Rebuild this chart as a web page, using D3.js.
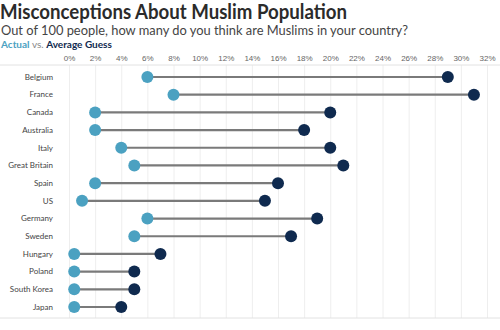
<!DOCTYPE html>
<html>
<head>
<meta charset="utf-8">
<script src="https://cdn.jsdelivr.net/npm/d3@7"></script>
<style>
  body { margin: 0; background: #fff; }
  svg { display: block; font-family: Lato, "Open Sans", sans-serif; }
</style>
</head>
<body>
<div id="chart"></div>
<script>
var countries = ['Belgium', 'France', 'Canada', 'Australia', 'Italy', 'Great Britain', 'Spain',
                 'US', 'Germany', 'Sweden', 'Hungary', 'Poland', 'South Korea', 'Japan'];
var actual = [6, 8, 2, 2, 4, 5, 2, 1, 6, 5, 0.4, 0.4, 0.4, 0.4];
var guess = [29, 31, 20, 18, 20, 21, 16, 15, 19, 17, 7, 5, 5, 4];
var ticks = d3.range(0, 33, 2);

var actualColor = '#4ba1c1',
    guessColor = '#0f2a4f';

var width = 500,
    height = 330;
var margin = {top: 65, left: 69, right: 13, bottom: 12};

var svg = d3.select('#chart').append('svg').attr('width', width).attr('height', height);

var x = d3.scaleLinear().domain([0, 32]).range([margin.left, width - margin.right]);
var y = d3.scalePoint().domain(countries).range([77, 307]);

// title block
svg.append('text').attr('x', 0).attr('y', 19)
    .attr('textLength', 347).attr('lengthAdjust', 'spacingAndGlyphs')
    .style('font-size', '20px').style('font-weight', 'bold').style('fill', '#2b2b2b')
    .text('Misconceptions About Muslim Population');
svg.append('text').attr('x', 1).attr('y', 35)
    .attr('textLength', 407).attr('lengthAdjust', 'spacingAndGlyphs')
    .style('font-size', '13px').style('fill', '#444')
    .text('Out of 100 people, how many do you think are Muslims in your country?');
var legend = svg.append('text').attr('x', 1).attr('y', 48).style('font-size', '10px');
legend.append('tspan').style('fill', actualColor).style('font-weight', 'bold').text('Actual');
legend.append('tspan').style('fill', '#888').text(' vs. ');
legend.append('tspan').style('fill', guessColor).style('font-weight', 'bold').text('Average Guess');

// grid + top axis
var axis = d3.axisTop(x).tickValues(ticks).tickFormat(function(d) { return d + '%'; })
    .tickSize(-(318 - margin.top)).tickPadding(4);
var gx = svg.append('g').attr('transform', 'translate(0,' + margin.top + ')').call(axis);
gx.select('.domain').remove();
gx.selectAll('.tick line').attr('stroke', '#eeeeee');
gx.selectAll('.tick text').style('font-size', '8px').style('fill', '#666').style('font-family', 'inherit');

svg.append('line').attr('x1', 0).attr('x2', width).attr('y1', margin.top).attr('y2', margin.top)
    .attr('stroke', '#e2e2e2');
svg.append('line').attr('x1', 0).attr('x2', width).attr('y1', 318).attr('y2', 318)
    .attr('stroke', '#e2e2e2');

// country labels
svg.selectAll('.country').data(countries).enter().append('text')
    .attr('class', 'country')
    .attr('x', 53).attr('y', function(d) { return y(d); }).attr('dy', '0.35em')
    .attr('text-anchor', 'end')
    .style('font-size', '8px').style('fill', '#444')
    .text(function(d) { return d; });

var rows = svg.selectAll('.row').data(countries).enter().append('g').attr('class', 'row');

rows.append('line')
    .attr('x1', function(d, i) { return x(actual[i]); })
    .attr('x2', function(d, i) { return x(guess[i]); })
    .attr('y1', function(d) { return y(d); })
    .attr('y2', function(d) { return y(d); })
    .attr('stroke', '#7a7a7a').attr('stroke-width', 2.2);

rows.append('circle')
    .attr('cx', function(d, i) { return x(actual[i]); })
    .attr('cy', function(d) { return y(d); })
    .attr('r', 6).attr('fill', actualColor);

rows.append('circle')
    .attr('cx', function(d, i) { return x(guess[i]); })
    .attr('cy', function(d) { return y(d); })
    .attr('r', 6).attr('fill', guessColor);
</script>
</body>
</html>
